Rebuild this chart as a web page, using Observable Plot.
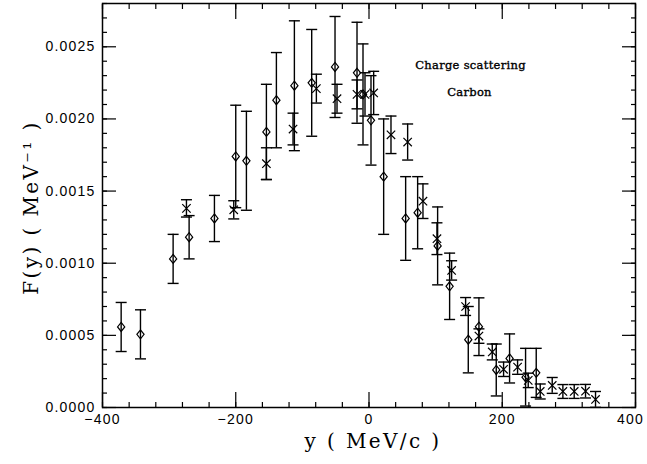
<!DOCTYPE html>
<html>
<head>
<meta charset="utf-8">
<script src="https://cdn.jsdelivr.net/npm/d3@7"></script>
<script src="https://cdn.jsdelivr.net/npm/@observablehq/plot@0.6"></script>
<style>
  html, body { margin: 0; padding: 0; background: #fff; }
  #chart svg [aria-label="x-axis tick label"] text,
  #chart svg [aria-label="y-axis tick label"] text { letter-spacing: 1.2px; }
</style>
</head>
<body>
<div id="chart"></div>
<script>
// Diamonds (open symbols): y (MeV/c), F(y), error
const diamondX = [-372, -343, -294, -270, -232, -200, -184, -154, -139, -112, -86, -51, -18, -9, 3, 22, 55, 73, 103, 121, 149, 165, 191, 211, 235, 251];
const diamondF = [0.000558, 0.000507, 0.00103, 0.00118, 0.00131, 0.00174, 0.00171, 0.00191, 0.00213, 0.00223, 0.00225, 0.00236, 0.00232, 0.00217, 0.00199, 0.00160, 0.00131, 0.00135, 0.00112, 0.00084, 0.00047, 0.00056, 0.00026, 0.00034, 0.00021, 0.00024];
const diamondErr = [0.00017, 0.00017, 0.00017, 0.00015, 0.00016, 0.000355, 0.000343, 0.00033, 0.00033, 0.00045, 0.00037, 0.00035, 0.00035, 0.00035, 0.00031, 0.00040, 0.00029, 0.00025, 0.00027, 0.00023, 0.00023, 0.00020, 0.00018, 0.00017, 0.00020, 0.00017];

// Crosses
const crossX = [-274, -203, -154, -114, -79, -48, -18, -6, 7, 33, 58, 81, 102, 124, 145, 165, 185, 202, 223, 239, 257, 275, 291, 308, 325, 340];
const crossF = [0.00138, 0.00137, 0.00169, 0.00193, 0.00221, 0.00214, 0.00217, 0.00217, 0.00218, 0.00189, 0.00184, 0.00143, 0.00117, 0.00095, 0.00070, 0.000495, 0.000385, 0.000265, 0.00028, 0.000188, 0.000111, 0.000153, 0.000111, 0.000111, 0.000113, 0.000056];
const crossErr = [0.00006, 0.000063, 0.00011, 0.00011, 0.0001, 0.0001, 0.0001, 0.00015, 0.00015, 0.00013, 0.000125, 0.00012, 0.00011, 0.000067, 0.000062, 0.00005, 0.000055, 0.00005, 0.00005, 0.00005, 0.000052, 0.000055, 0.000048, 0.000048, 0.000047, 0.000055];

// Axis ticks
const xMajor = [-400, -200, 0, 200, 400];
const xMinor = d3.range(-400, 401, 40);
const yMajor = [0, 0.0005, 0.0010, 0.0015, 0.0020, 0.0025];
const yMinor = d3.range(0, 29).map(i => i / 10000);

const annotations = ["Charge scattering", "Carbon"];
const xTitle = "y ( MeV/c )";
const yTitle = "F(y) ( MeV\u207B\u00B9 )";

const diamonds = diamondX.map((x, i) => ({x, y: diamondF[i], e: diamondErr[i]}));
const crosses = crossX.map((x, i) => ({x, y: crossF[i], e: crossErr[i]}));
const all = diamonds.concat(crosses);
const caps = all.flatMap(d => [{x: d.x, y: d.y - d.e}, {x: d.x, y: d.y + d.e}]);

const diamondSym = {draw(ctx) { ctx.moveTo(0, -4.5); ctx.lineTo(3.6, 0); ctx.lineTo(0, 4.5); ctx.lineTo(-3.6, 0); ctx.closePath(); }};
const crossSym = {draw(ctx) { ctx.moveTo(-4.2, -4.2); ctx.lineTo(4.2, 4.2); ctx.moveTo(-4.2, 4.2); ctx.lineTo(4.2, -4.2); }};
const capSym = {draw(ctx) { ctx.moveTo(-5.5, 0); ctx.lineTo(5.5, 0); }};

const tickStyle = {stroke: "black", strokeWidth: 1.2, text: null, label: null};
const serif = "'DejaVu Serif', serif";

const chart = Plot.plot({
  width: 647,
  height: 464,
  marginLeft: 102,
  marginRight: 12,
  marginTop: 3,
  marginBottom: 57,
  style: {fontFamily: "'Liberation Sans', Arial, sans-serif", fontSize: "14px", color: "black", background: "white"},
  x: {domain: [-400, 400]},
  y: {domain: [0, 0.0028]},
  marks: [
    // inward ticks
    Plot.axisX(xMajor, {anchor: "bottom", tickSize: -15, ...tickStyle}),
    Plot.axisX(xMinor, {anchor: "bottom", tickSize: -5, ...tickStyle}),
    Plot.axisX(xMajor, {anchor: "top", tickSize: -15, ...tickStyle}),
    Plot.axisX(xMinor, {anchor: "top", tickSize: -5, ...tickStyle}),
    Plot.axisY(yMajor, {anchor: "left", tickSize: -14, ...tickStyle}),
    Plot.axisY(yMinor, {anchor: "left", tickSize: -5, ...tickStyle}),
    Plot.axisY(yMajor, {anchor: "right", tickSize: -14, ...tickStyle}),
    Plot.axisY(yMinor, {anchor: "right", tickSize: -5, ...tickStyle}),
    // tick labels
    Plot.axisX(xMajor, {anchor: "bottom", tickSize: 0, tickPadding: 7, label: null, fontSize: 14}),
    Plot.axisY(yMajor, {anchor: "left", tickSize: 0, tickPadding: 7, label: null, fontSize: 14, tickFormat: d3.format(".4f")}),
    // titles
    Plot.text([xTitle], {frameAnchor: "bottom", dx: 4, dy: 40, textAnchor: "middle", fontFamily: serif, fontSize: 20, fill: "black"}),
    Plot.text([yTitle], {frameAnchor: "left", dx: -71, dy: 2, rotate: -90, textAnchor: "middle", fontFamily: serif, fontSize: 20, fill: "black"}),
    // annotation
    Plot.text([annotations[0]], {frameAnchor: "top-left", dx: 368, dy: 57, textAnchor: "middle", fontFamily: serif, fontSize: 11.5, fill: "black"}),
    Plot.text([annotations[1]], {frameAnchor: "top-left", dx: 367, dy: 84, textAnchor: "middle", fontFamily: serif, fontSize: 11.5, fill: "black"}),
    // error bars
    Plot.ruleX(all, {x: "x", y1: d => d.y - d.e, y2: d => d.y + d.e, stroke: "black", strokeWidth: 1.4}),
    Plot.dot(caps, {x: "x", y: "y", symbol: capSym, stroke: "black", strokeWidth: 1.4, fill: "none"}),
    // markers
    Plot.dot(diamonds, {x: "x", y: "y", symbol: diamondSym, stroke: "black", strokeWidth: 1.2, fill: "none"}),
    Plot.dot(crosses, {x: "x", y: "y", symbol: crossSym, stroke: "black", strokeWidth: 1.2, fill: "none"}),
    Plot.frame({stroke: "black", strokeWidth: 1.5})
  ]
});
// widen the serif titles to match the reference lettering
d3.select(chart).selectAll("text").filter(function() {
  const t = this.textContent;
  return t === xTitle || t === yTitle;
}).attr("letter-spacing", "2.4px");
d3.select(chart).selectAll("text").filter(function() {
  return annotations.includes(this.textContent);
}).attr("letter-spacing", "0.3px").attr("stroke", "black").attr("stroke-width", 0.35);
// keep the last x tick label inside the picture, as in the reference
d3.select(chart).selectAll('[aria-label="x-axis tick label"] text').filter(function() {
  return this.textContent === "400";
}).attr("dx", "-5");
document.getElementById("chart").appendChild(chart);
</script>
</body>
</html>
